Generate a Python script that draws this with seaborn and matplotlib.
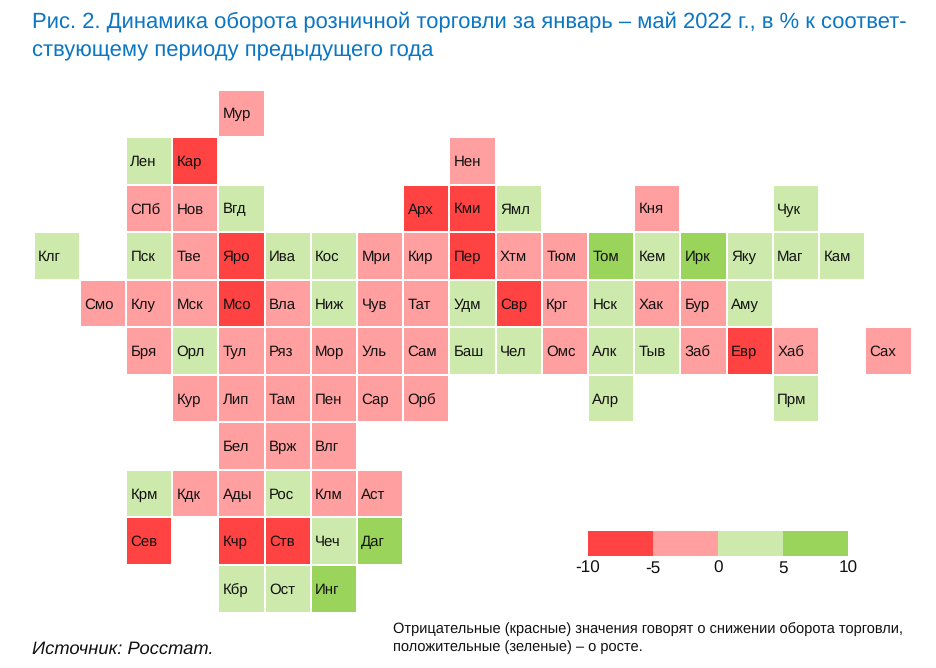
import numpy as np
import matplotlib
matplotlib.use("Agg")
import matplotlib.pyplot as plt
from matplotlib.colors import BoundaryNorm, ListedColormap
import seaborn as sns

sns.set_theme(style="white")
plt.rcParams["font.family"] = ["Liberation Sans", "DejaVu Sans"]
plt.rcParams["text.hinting"] = "none"
plt.rcParams["text.hinting_factor"] = 8

# Tile grid of Russian regions, north at the top, west on the left
region_rows = [
    "...      ...      ...      ...  Мур  ...  ...  ...  ...  ...  ...  ...  ...  ...  ...  ...  ...  ...  ...",
    "...      ...      Лен      Кар  ...  ...  ...  ...  ...  Нен  ...  ...  ...  ...  ...  ...  ...  ...  ...",
    "...      ...      СПб      Нов  Вгд  ...  ...  ...  Арх  Кми  Ямл  ...  ...  Кня  ...  ...  Чук  ...  ...",
    "Клг      ...      Пск      Тве  Яро  Ива  Кос  Мри  Кир  Пер  Хтм  Тюм  Том  Кем  Ирк  Яку  Маг  Кам  ...",
    "...      Смо      Клу      Мск  Мсо  Вла  Ниж  Чув  Тат  Удм  Свр  Крг  Нск  Хак  Бур  Аму  ...  ...  ...",
    "...      ...      Бря      Орл  Тул  Ряз  Мор  Уль  Сам  Баш  Чел  Омс  Алк  Тыв  Заб  Евр  Хаб  ...  Сах",
    "...      ...      ...      Кур  Лип  Там  Пен  Сар  Орб  ...  ...  ...  Алр  ...  ...  ...  Прм  ...  ...",
    "...      ...      ...      ...  Бел  Врж  Влг  ...  ...  ...  ...  ...  ...  ...  ...  ...  ...  ...  ...",
    "...      ...      Крм      Кдк  Ады  Рос  Клм  Аст  ...  ...  ...  ...  ...  ...  ...  ...  ...  ...  ...",
    "...      ...      Сев      ...  Кчр  Ств  Чеч  Даг  ...  ...  ...  ...  ...  ...  ...  ...  ...  ...  ...",
    "...      ...      ...      ...  Кбр  Ост  Инг  ...  ...  ...  ...  ...  ...  ...  ...  ...  ...  ...  ...",
]

# Change in retail turnover by region: only the 5-point band is known, so the band midpoint is stored
n = np.nan
change_rows = [
    [n, n, n, n, -2.5, n, n, n, n, n, n, n, n, n, n, n, n, n, n],
    [n, n, 2.5, -7.5, n, n, n, n, n, -2.5, n, n, n, n, n, n, n, n, n],
    [n, n, -2.5, -2.5, 2.5, n, n, n, -7.5, -7.5, 2.5, n, n, -2.5, n, n, 2.5, n, n],
    [2.5, n, 2.5, -2.5, -7.5, 2.5, 2.5, -2.5, -2.5, -7.5, -2.5, -2.5, 7.5, 2.5, 7.5, 2.5, 2.5, 2.5, n],
    [n, -2.5, -2.5, -2.5, -7.5, -2.5, 2.5, -2.5, -2.5, 2.5, -7.5, -2.5, 2.5, -2.5, -2.5, 2.5, n, n, n],
    [n, n, -2.5, 2.5, -2.5, -2.5, -2.5, -2.5, -2.5, 2.5, 2.5, -2.5, 2.5, 2.5, -2.5, -7.5, -2.5, n, -2.5],
    [n, n, n, -2.5, -2.5, -2.5, -2.5, -2.5, -2.5, n, n, n, 2.5, n, n, n, 2.5, n, n],
    [n, n, n, n, -2.5, -2.5, -2.5, n, n, n, n, n, n, n, n, n, n, n, n],
    [n, n, 2.5, -2.5, -2.5, 2.5, -2.5, -2.5, n, n, n, n, n, n, n, n, n, n, n],
    [n, n, -7.5, n, -7.5, -7.5, 2.5, 7.5, n, n, n, n, n, n, n, n, n, n, n],
    [n, n, n, n, 2.5, 2.5, 7.5, n, n, n, n, n, n, n, n, n, n, n, n],
]

band_edges = [-10, -5, 0, 5, 10]
band_midpoints = [-7.5, -2.5, 2.5, 7.5]
band_colors = ["#FF4343", "#FF9F9F", "#CDE9AB", "#9AD45A"]

title_lines = (
    "Рис. 2. Динамика оборота розничной торговли за январь – май 2022 г., в % к соответ-\n"
    "ствующему периоду предыдущего года"
)
source_text = "Источник: Росстат."
note_text = (
    "Отрицательные (красные) значения говорят о снижении оборота торговли,\n"
    "положительные (зеленые) – о росте."
)

W, H = 936, 668
cmap = ListedColormap(band_colors)
norm = BoundaryNorm(band_edges, cmap.N)


def px_axes(fig, left, top, right, bottom):
    """Add axes placed by pixel edges measured from the top-left corner."""
    return fig.add_axes([left / W, 1 - bottom / H, (right - left) / W, (bottom - top) / H])


fig = plt.figure(figsize=(W / 100, H / 100), dpi=100, facecolor="white")

# Tile map
labels = np.array([[("" if c == "..." else c) for c in row.split()] for row in region_rows])
values = np.array(change_rows, dtype=float)

ax = px_axes(fig, 33.5, 89.5, 911.5, 612.5)
sns.heatmap(
    values, ax=ax, cmap=cmap, norm=norm, cbar=False, linewidths=1.35, linecolor="white",
    annot=labels, fmt="", annot_kws={"color": "#111111", "fontsize": 10.8},
    xticklabels=False, yticklabels=False,
)
# Region codes sit near the left edge of each tile
for t in ax.texts:
    x, y = t.get_position()
    t.set_position((x - 0.5 + 0.095, y + 0.025))
    t.set_ha("left")
    t.set_color("#111111")

# Band legend
leg = px_axes(fig, 588, 531, 848, 556)
sns.heatmap(
    np.array([band_midpoints]), ax=leg, cmap=cmap, norm=norm, cbar=False,
    xticklabels=False, yticklabels=False,
)
leg.set_xticks(range(len(band_edges)))
leg.set_xticklabels([str(e) for e in band_edges], fontsize=12.3, color="#111111")
leg.tick_params(axis="x", length=0, pad=3, bottom=True)

fig.text(32 / W, 1 - 36 / H, title_lines, color="#0B76C4", fontsize=15.85, va="center",
         linespacing=1.5)
fig.text(32 / W, 1 - 649 / H, source_text, color="#111111", fontsize=13.25, style="italic",
         va="center")
fig.text(393 / W, 1 - 638 / H, note_text, color="#111111", fontsize=10.55, va="center",
         linespacing=1.36)

fig.savefig("out.png", dpi=100)
